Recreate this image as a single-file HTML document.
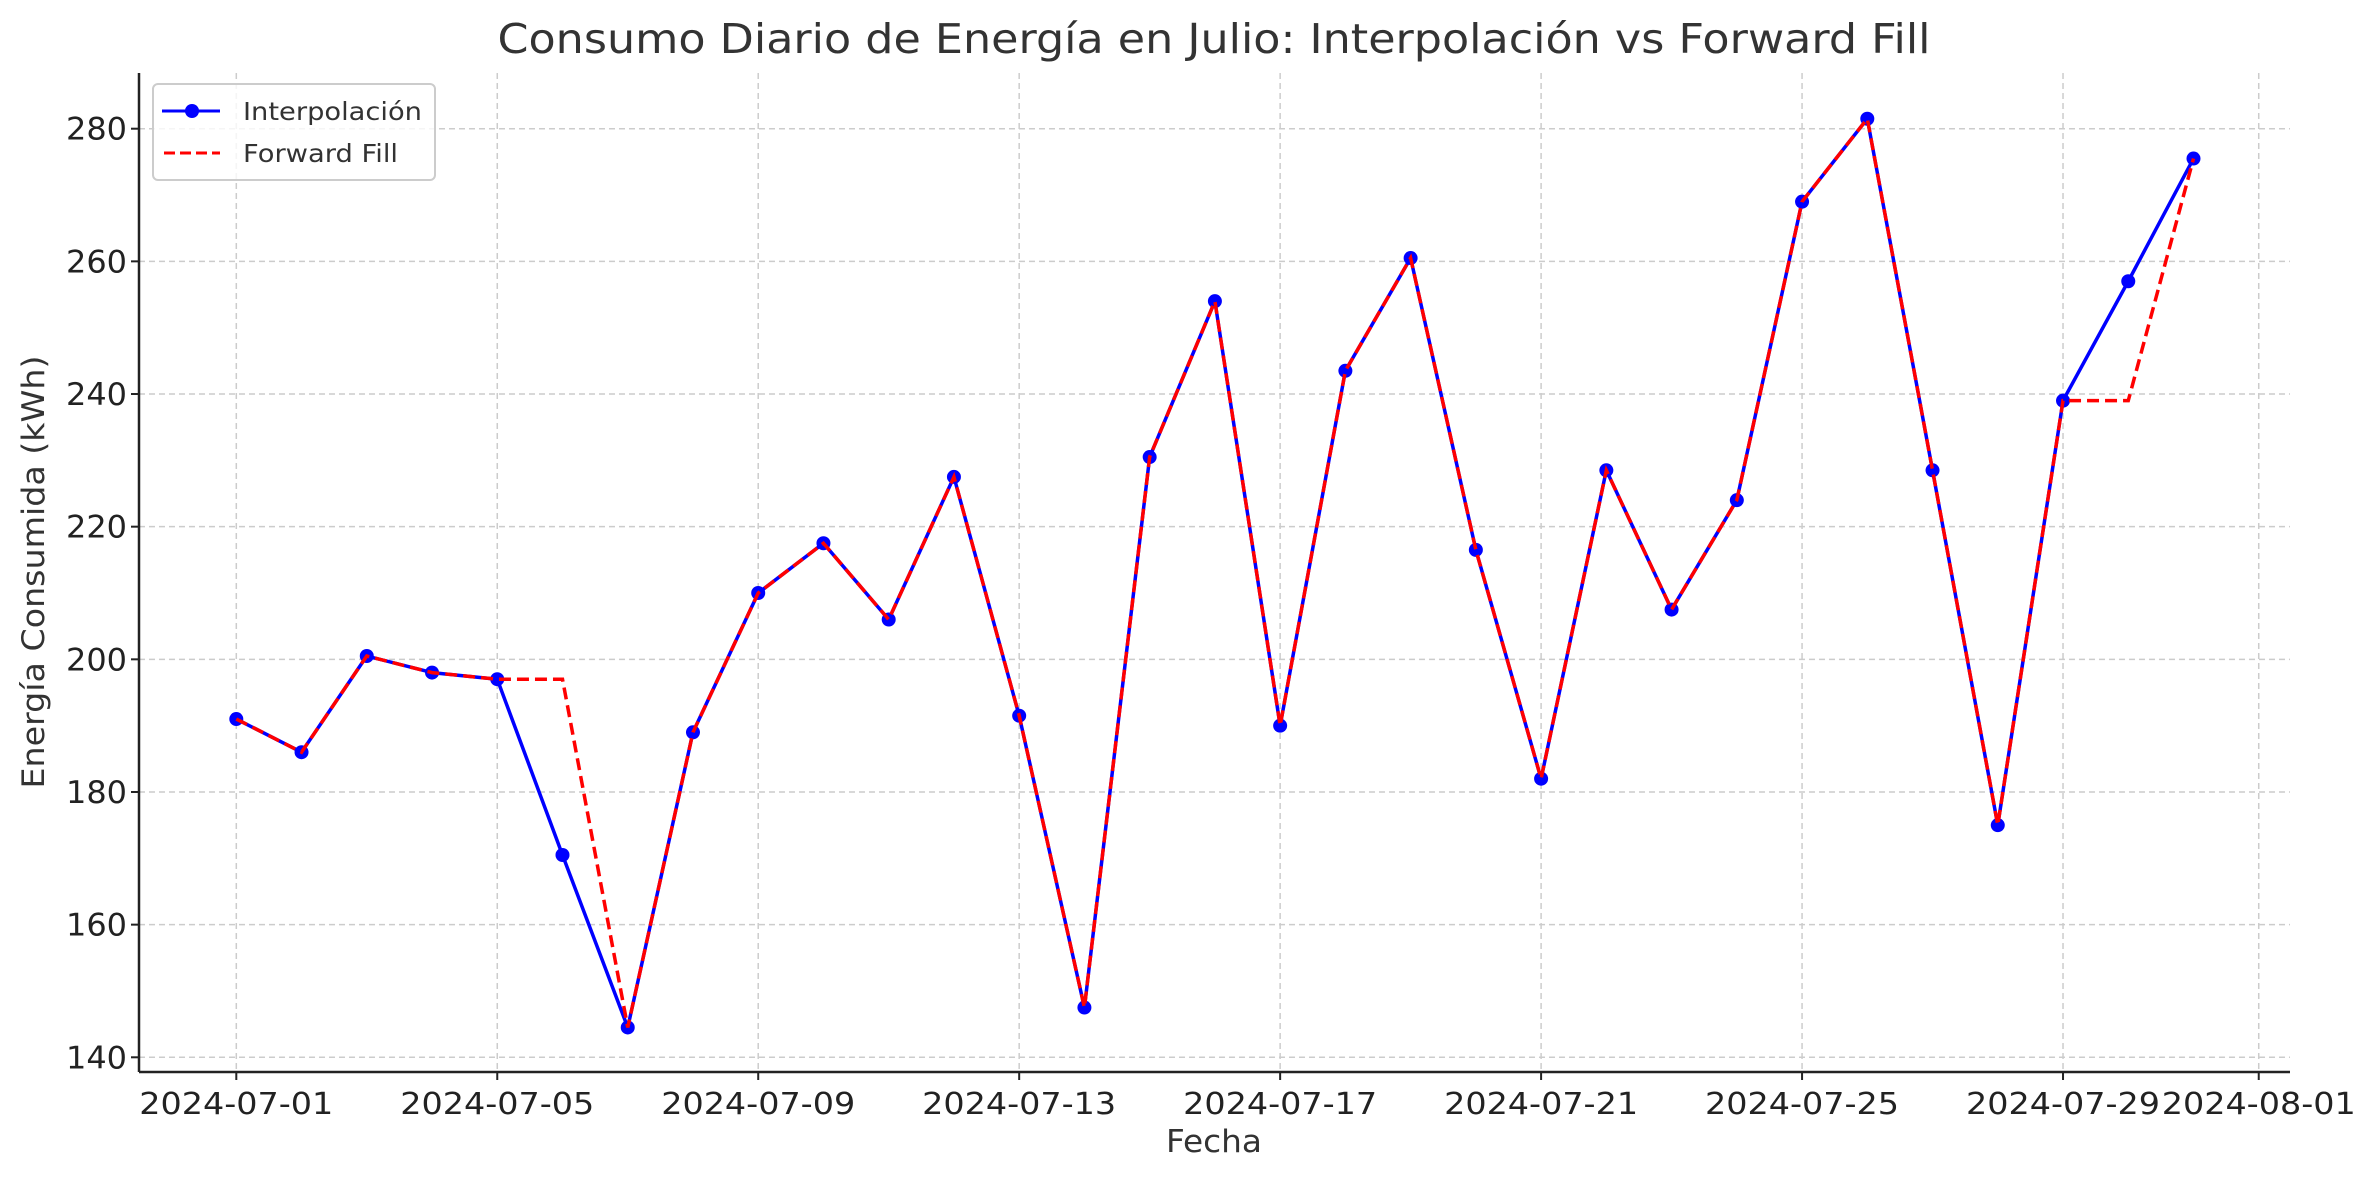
<!DOCTYPE html>
<html><head><meta charset="utf-8"><style>
body{margin:0;background:#fff;}
svg{display:block;font-family:"DejaVu Sans","Liberation Sans",sans-serif;}
</style></head><body>
<svg id="chart" width="2375" height="1180" viewBox="0 0 2375 1180" xmlns="http://www.w3.org/2000/svg">
<rect width="2375" height="1180" fill="#fff"/>
<text x="1214" y="53" font-size="41" fill="#333" text-anchor="middle" textLength="1433" lengthAdjust="spacingAndGlyphs">Consumo Diario de Energía en Julio: Interpolación vs Forward Fill</text>
<g id="grid"></g>
<g id="axes"></g>
<g id="series"></g>
<text x="1214" y="1152" font-size="31" fill="#333" text-anchor="middle" textLength="96" lengthAdjust="spacingAndGlyphs">Fecha</text>
<text transform="translate(44,572) rotate(-90)" font-size="31" fill="#333" text-anchor="middle" textLength="433" lengthAdjust="spacingAndGlyphs">Energía Consumida (kWh)</text>
<g>
<rect x="153" y="84" width="282" height="96" rx="5" fill="#fff" fill-opacity="0.8" stroke="#ccc" stroke-width="2"/>
<line x1="162" y1="111" x2="220" y2="111" stroke="#00f" stroke-width="3"/>
<circle cx="192" cy="111" r="7" fill="#00f"/>
<text x="243" y="120" font-size="25" fill="#333" textLength="179" lengthAdjust="spacingAndGlyphs">Interpolación</text>
<line x1="164" y1="153" x2="220" y2="153" stroke="#f00" stroke-width="3" stroke-dasharray="11,5"/>
<text x="243" y="162" font-size="25" fill="#333" textLength="155" lengthAdjust="spacingAndGlyphs">Forward Fill</text>
</g>
</svg>
<script>
const days = ['2024-07-01','2024-07-02','2024-07-03','2024-07-04','2024-07-05','2024-07-06','2024-07-07','2024-07-08','2024-07-09','2024-07-10','2024-07-11','2024-07-12','2024-07-13','2024-07-14','2024-07-15','2024-07-16','2024-07-17','2024-07-18','2024-07-19','2024-07-20','2024-07-21','2024-07-22','2024-07-23','2024-07-24','2024-07-25','2024-07-26','2024-07-27','2024-07-28','2024-07-29','2024-07-30','2024-07-31'];
const interpValues = [191,186,200.5,198,197,170.5,144.5,189,210,217.5,206,227.5,191.5,147.5,230.5,254,190,243.5,260.5,216.5,182,228.5,207.5,224,269,281.5,228.5,175,239,257,275.5];
const ffillValues = [191,186,200.5,198,197,197,144.5,189,210,217.5,206,227.5,191.5,147.5,230.5,254,190,243.5,260.5,216.5,182,228.5,207.5,224,269,281.5,228.5,175,239,239,275.5];
const xTickLabels = ['2024-07-01','2024-07-05','2024-07-09','2024-07-13','2024-07-17','2024-07-21','2024-07-25','2024-07-29','2024-08-01'];
const xTickDays = [0,4,8,12,16,20,24,28,31];
const yTicks = [140,160,180,200,220,240,260,280];

const NS='http://www.w3.org/2000/svg';
const L=139,R=2290,T=73,B=1072;
const xS=d=>236.3+d*65.24;
const yS=v=>1057.3-(v-140)*(928.6/140);
function mk(tag,attrs,parent){const e=document.createElementNS(NS,tag);for(const k in attrs)e.setAttribute(k,attrs[k]);parent.appendChild(e);return e;}
const grid=document.getElementById('grid'),axes=document.getElementById('axes'),ser=document.getElementById('series');
xTickDays.forEach((d,i)=>{
  const x=xS(d);
  const g=mk('line',{x1:x,x2:x,y1:T,y2:B,stroke:'#ccc','stroke-width':1.5,'stroke-dasharray':'6,4'},grid);
  
  
  mk('line',{x1:x,x2:x,y1:B,y2:B+8,stroke:'#222','stroke-width':2},axes);
  const t=mk('text',{x:x,y:B+42,'font-size':30,fill:'#222','text-anchor':'middle',textLength:194,lengthAdjust:'spacingAndGlyphs'},axes);
  t.textContent=xTickLabels[i];
  
  
});
yTicks.forEach(v=>{
  const y=yS(v);
  const g=mk('line',{x1:L,x2:R,y1:y,y2:y,stroke:'#ccc','stroke-width':1.5,'stroke-dasharray':'6,4'},grid);
  
  
  mk('line',{x1:L-8,x2:L,y1:y,y2:y,stroke:'#222','stroke-width':2},axes);
  const t=mk('text',{x:L-12,y:y+11,'font-size':31,fill:'#222','text-anchor':'end',textLength:61,lengthAdjust:'spacingAndGlyphs'},axes);
  t.textContent=v;
  
  
});
const ax1=mk('line',{x1:L,x2:L,y1:T,y2:B,stroke:'#222','stroke-width':2.5},axes);


const ax2=mk('line',{x1:L,x2:R,y1:B,y2:B,stroke:'#222','stroke-width':2.5},axes);



const p1=mk('polyline',{points:interpValues.map((v,i)=>xS(i)+','+yS(v)).join(' '),fill:'none',stroke:'#00f','stroke-width':3.5,'stroke-linejoin':'round'},ser);


interpValues.forEach((v,i)=>{
  const c=mk('circle',{cx:xS(i),cy:yS(v),r:7,fill:'#00f'},ser);
  
  
});
const p2=mk('polyline',{points:ffillValues.map((v,i)=>xS(i)+','+yS(v)).join(' '),fill:'none',stroke:'#f00','stroke-width':3.5,'stroke-dasharray':'12,6'},ser);


</script>
</body></html>
